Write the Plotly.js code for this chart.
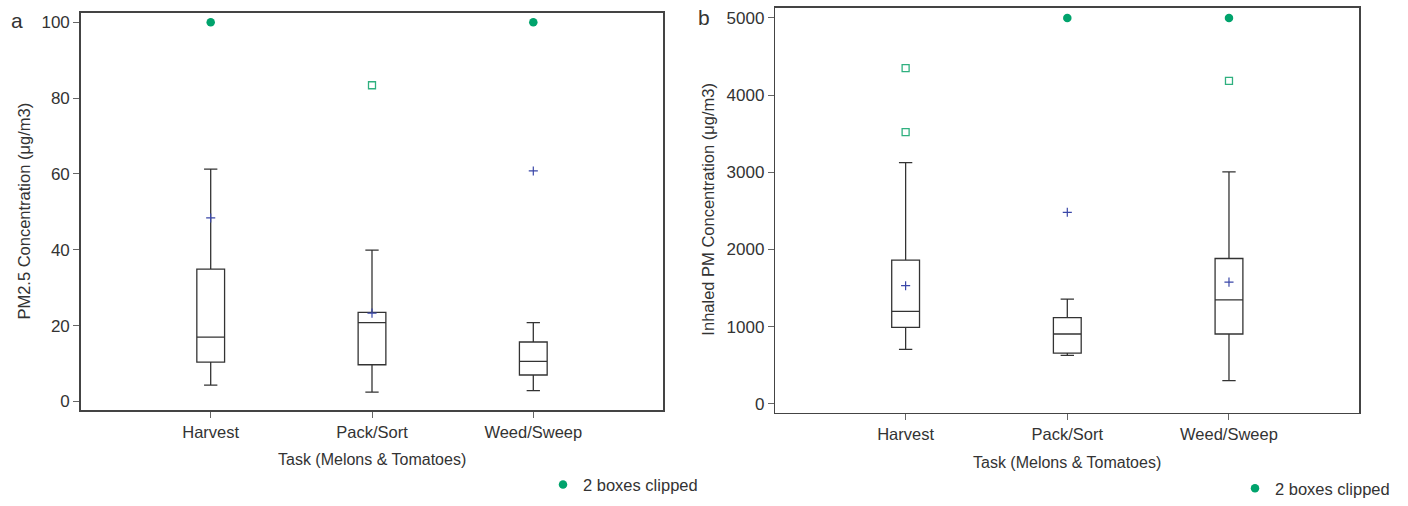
<!DOCTYPE html>
<html>
<head>
<meta charset="utf-8">
<script src="https://cdn.plot.ly/plotly-3.0.1.min.js"></script>
<style>html,body{margin:0;padding:0;background:#fff;overflow:hidden;}#chart{width:1408px;height:506px;overflow:hidden;}</style>
</head>
<body>
<div id="chart"></div>
<script>
// ---- data ----
const tasks = ["Harvest", "Pack/Sort", "Weed/Sweep"];

// Panel a: PM2.5 concentration (µg/m3)
const a_lower = [4.3, 2.5, 2.9];
const a_q1 = [10.4, 9.7, 7.0];
const a_median = [17.0, 20.8, 10.6];
const a_q3 = [34.9, 23.5, 15.7];
const a_upper = [61.3, 39.9, 20.8];
const a_mean = [48.4, 23.3, 60.8];
const a_outX = ["Pack/Sort"];
const a_outY = [83.4];
const a_clipX = ["Harvest", "Weed/Sweep"];
const a_clipY = [100, 100];

// Panel b: Inhaled PM concentration (µg/m3)
const b_lower = [705, 629, 301];
const b_q1 = [990, 658, 905];
const b_median = [1199, 905, 1347];
const b_q3 = [1862, 1118, 1883];
const b_upper = [3125, 1356, 3005];
const b_mean = [1531, 2482, 1577];
const b_outX = ["Harvest", "Harvest", "Weed/Sweep"];
const b_outY = [4349, 3520, 4184];
const b_clipX = ["Pack/Sort", "Weed/Sweep"];
const b_clipY = [5000, 5000];

const aTicks = [0, 20, 40, 60, 80, 100];
const bTicks = [0, 1000, 2000, 3000, 4000, 5000];

// ---- styles ----
const FONT = "Liberation Sans, Arial, Helvetica, sans-serif";
const TXT = "#333333";
const BOXLINE = "#333333";
const GREEN = "#00a36c";
const GREEN_OPEN = "#2fb07f";
const BLUE = "#3a47a8";

function boxTrace(q1, med, q3, lo, hi, xa, ya) {
  return {
    type: "box", x: tasks, q1: q1, median: med, q3: q3,
    lowerfence: lo, upperfence: hi,
    boxpoints: false, width: 0.172, whiskerwidth: 0.48,
    line: {color: BOXLINE, width: 1.3}, fillcolor: "rgba(255,255,255,0)",
    xaxis: xa, yaxis: ya, showlegend: false, hoverinfo: "skip"
  };
}
function meanTrace(m, xa, ya) {
  return {type: "scatter", mode: "markers", x: tasks, y: m, xaxis: xa, yaxis: ya,
    marker: {symbol: "cross-thin", size: 6.5, line: {color: BLUE, width: 1.2}, color: BLUE},
    showlegend: false, hoverinfo: "skip"};
}
function outTrace(xs, ys, xa, ya) {
  return {type: "scatter", mode: "markers", x: xs, y: ys, xaxis: xa, yaxis: ya,
    marker: {symbol: "square-open", size: 7, color: GREEN_OPEN, line: {width: 1.3}},
    showlegend: false, hoverinfo: "skip"};
}
function clipTrace(xs, ys, xa, ya, leg) {
  return {type: "scatter", mode: "markers", x: xs, y: ys, xaxis: xa, yaxis: ya,
    name: "2 boxes clipped", legend: leg, showlegend: true,
    marker: {symbol: "circle", size: 8.5, color: GREEN}, hoverinfo: "skip"};
}

const data = [
  boxTrace(a_q1, a_median, a_q3, a_lower, a_upper, "x", "y"),
  meanTrace(a_mean, "x", "y"),
  outTrace(a_outX, a_outY, "x", "y"),
  clipTrace(a_clipX, a_clipY, "x", "y", "legend"),
  boxTrace(b_q1, b_median, b_q3, b_lower, b_upper, "x2", "y2"),
  meanTrace(b_mean, "x2", "y2"),
  outTrace(b_outX, b_outY, "x2", "y2"),
  clipTrace(b_clipX, b_clipY, "x2", "y2", "legend2")
];

function xAxis(dom, anchor) {
  return {domain: dom, anchor: anchor, type: "category", categoryarray: tasks,
    range: [-0.806, 2.806], showline: true, mirror: true, linecolor: "#444", linewidth: 1.5,
    ticks: "outside", ticklen: 6, tickcolor: "#666", tickwidth: 1, showgrid: false, zeroline: false,
    tickfont: {family: FONT, size: 16.5, color: TXT}, automargin: false, fixedrange: true};
}
function yAxis(dom, anchor, range, ticks) {
  return {domain: dom, anchor: anchor, range: range, tickvals: ticks,
    showline: true, mirror: true, linecolor: "#444", linewidth: 1.5,
    ticks: "outside", ticklen: 6, tickcolor: "#666", tickwidth: 1, showgrid: false, zeroline: false,
    tickfont: {family: FONT, size: 17, color: TXT}, automargin: false, fixedrange: true};
}

const W = 1408, H = 506;
function ann(text, px, py, size, angle) {
  return {text: text, xref: "paper", yref: "paper", x: px / W, y: 1 - py / H,
    xanchor: "center", yanchor: "middle", showarrow: false, textangle: angle || 0,
    font: {family: FONT, size: size, color: TXT}};
}
const layout = {
  width: W, height: H,
  margin: {l: 0, r: 0, t: 0, b: 0},
  paper_bgcolor: "#fff", plot_bgcolor: "#fff",
  font: {family: FONT, color: TXT},
  boxmode: "overlay",
  xaxis: xAxis([80.7 / W, 663.3 / W], "y"),
  yaxis: yAxis([1 - 417 / H, 1 - 13 / H], "x", [-2.34, 102.5], aTicks),
  xaxis2: xAxis([775.3 / W, 1359.3 / W], "y2"),
  yaxis2: yAxis([1 - 419.5 / H, 1 - 8 / H], "x2", [-117, 5131], bTicks),
  legend: {x: 543 / W, y: 1 - 492.5 / H, xanchor: "left", yanchor: "middle",
    bgcolor: "rgba(0,0,0,0)", font: {family: FONT, size: 16.5, color: TXT}},
  legend2: {x: 1235 / W, y: 1 - 496.7 / H, xanchor: "left", yanchor: "middle",
    bgcolor: "rgba(0,0,0,0)", font: {family: FONT, size: 16.5, color: TXT}},
  annotations: [
    ann("a", 17, 21, 21),
    ann("b", 704, 18, 21),
    ann("PM2.5 Concentration (μg/m3)", 24.5, 214.5, 16.5, -90),
    ann("Inhaled PM Concentration (μg/m3)", 708, 213, 16.5, -90),
    ann("Task (Melons & Tomatoes)", 372, 466.5, 16),
    ann("Task (Melons & Tomatoes)", 1067, 470, 16)
  ]
};

Plotly.newPlot("chart", data, layout, {displayModeBar: false, staticPlot: true});
</script>
</body>
</html>
